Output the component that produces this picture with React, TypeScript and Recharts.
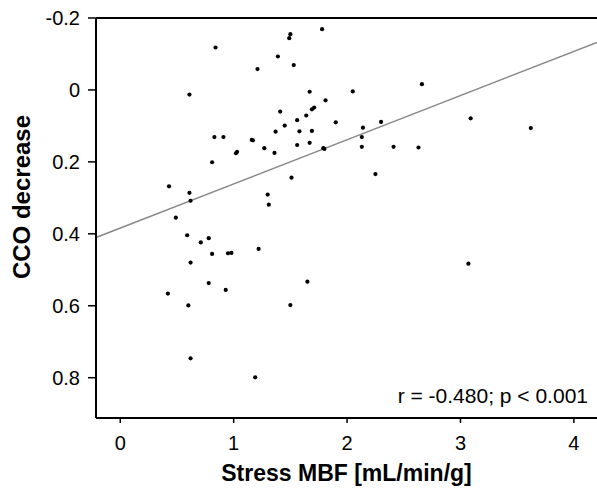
import { Label, ReferenceLine, Scatter, ScatterChart, XAxis, YAxis } from 'recharts';

// Stress MBF [mL/min/g] per patient
const MBF = [
  0.84, 0.61, 1.21, 1.39, 1.5, 1.49, 1.53, 1.41, 1.45, 1.56, 1.37, 1.58, 1.56, 0.83, 0.91, 1.16, 1.17,
  1.27, 1.03, 1.02, 1.36, 0.81, 1.51, 0.43, 0.61, 0.62, 1.3, 1.31, 0.49, 0.59, 0.71, 0.78, 1.22, 0.81,
  0.95, 0.98, 0.62, 0.78, 0.93, 0.42, 0.6, 1.5, 0.62, 1.19, 1.78, 1.67, 2.05, 2.66, 1.81, 1.71, 1.69,
  1.64, 1.9, 2.3, 3.09, 1.69, 2.14, 2.13, 1.67, 1.79, 1.8, 2.13, 2.41, 2.63, 3.62, 2.25, 1.65, 3.07,
];

// CCO decrease, same order
const CCO = [
  -0.118, 0.013, -0.058, -0.093, -0.155, -0.144, -0.069, 0.06, 0.099, 0.084, 0.116, 0.115, 0.153, 0.131,
  0.131, 0.139, 0.14, 0.162, 0.172, 0.176, 0.175, 0.201, 0.244, 0.268, 0.286, 0.308, 0.291, 0.319, 0.355,
  0.404, 0.424, 0.412, 0.442, 0.456, 0.454, 0.453, 0.48, 0.537, 0.556, 0.566, 0.599, 0.598, 0.746, 0.799,
  -0.169, 0.005, 0.004, -0.016, 0.029, 0.049, 0.054, 0.071, 0.09, 0.089, 0.079, 0.114, 0.105, 0.131,
  0.147, 0.162, 0.164, 0.158, 0.158, 0.16, 0.106, 0.234, 0.533, 0.483,
];

const X_TICKS = [0, 1, 2, 3, 4];
const Y_TICKS = [-0.2, 0, 0.2, 0.4, 0.6, 0.8];
const X_DOMAIN = [-0.214, 4.204];
const Y_DOMAIN = [-0.2, 0.912];

// least-squares fit as drawn in the figure
const REG_INTERCEPT = 0.384;
const REG_SLOPE = -0.1228;
const STATS = 'r = -0.480; p < 0.001';

const FONT = 'Liberation Sans, Arial, Helvetica, sans-serif';

const data = MBF.map((x, i) => ({ x, y: CCO[i] }));
const regLine = X_DOMAIN.map((x) => ({ x, y: REG_INTERCEPT + REG_SLOPE * x }));

const Dot = (props: any) => <circle cx={props.cx} cy={props.cy} r={2.1} fill="#000" />;

const App = () => {
  return (
    <div style={{ position: 'absolute', left: 0, top: 0, background: '#fff' }}>
      <ScatterChart width={597} height={489} margin={{ top: 18, right: 0, bottom: 0, left: 0 }}>
        <XAxis
          type="number"
          dataKey="x"
          domain={X_DOMAIN}
          ticks={X_TICKS}
          allowDataOverflow
          height={71}
          tickSize={5}
          tickMargin={13}
          axisLine={{ stroke: '#000', strokeWidth: 2 }}
          tickLine={{ stroke: '#000', strokeWidth: 1.5 }}
          tick={{ fill: '#000', fontSize: 20, fontFamily: FONT }}
        >
          <Label
            value="Stress MBF [mL/min/g]"
            position="insideBottom"
            offset={8}
            style={{ fill: '#000', fontSize: 23, fontWeight: 700, fontFamily: FONT }}
          />
        </XAxis>
        <YAxis
          type="number"
          dataKey="y"
          reversed
          domain={Y_DOMAIN}
          ticks={Y_TICKS}
          allowDataOverflow
          width={96}
          tickSize={8}
          tickMargin={8}
          tickFormatter={(v: number) => (v === 0 ? '0' : v.toFixed(1))}
          axisLine={{ stroke: '#000', strokeWidth: 2 }}
          tickLine={{ stroke: '#000', strokeWidth: 1.5 }}
          tick={{ fill: '#000', fontSize: 20, fontFamily: FONT }}
        >
          <Label
            content={() => (
              <text
                transform="translate(30,197) rotate(-90)"
                textAnchor="middle"
                fill="#000"
                fontSize={24}
                fontWeight={700}
                fontFamily={FONT}
              >
                CCO decrease
              </text>
            )}
          />
        </YAxis>
        <ReferenceLine y={-0.2} stroke="#000" strokeWidth={2} />
        <ReferenceLine
          segment={regLine}
          stroke="#888"
          strokeWidth={1.5}
        />
        <Scatter data={data} shape={Dot} isAnimationActive={false} />
        <text x={588} y={403} textAnchor="end" fill="#000" fontSize={21} fontFamily={FONT}>
          {STATS}
        </text>
      </ScatterChart>
    </div>
  );
};

export default App;
